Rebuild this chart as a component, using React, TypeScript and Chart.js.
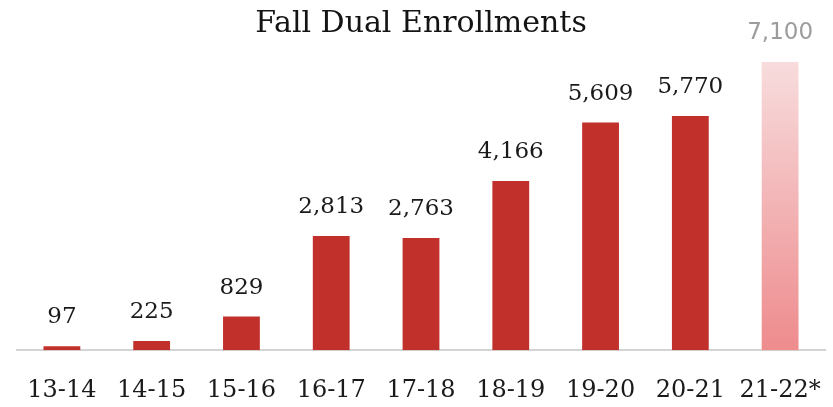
import React, { useEffect, useRef } from "react";
import { Chart, registerables } from "chart.js";

Chart.register(...registerables);

const categories = ["13-14", "14-15", "15-16", "16-17", "17-18", "18-19", "19-20", "20-21", "21-22*"];
const enrollments = [97, 225, 829, 2813, 2763, 4166, 5609, 5770, 7100];
const valueLabels = ["97", "225", "829", "2,813", "2,763", "4,166", "5,609", "5,770", "7,100"];
const projectedIndex = 8;
const chartTitle = "Fall Dual Enrollments";

const BAR_RED = "#c1302b";
const SERIF = "'DejaVu Serif', 'Liberation Serif', serif";
const SANS = "'DejaVu Sans', 'Liberation Sans', sans-serif";

const valueLabelPlugin = {
  id: "valueLabels",
  afterDatasetsDraw(chart: any) {
    const ctx = chart.ctx;
    const meta = chart.getDatasetMeta(0);
    ctx.save();
    ctx.textAlign = "center";
    ctx.textBaseline = "alphabetic";
    meta.data.forEach((bar: any, i: number) => {
      if (i === projectedIndex) {
        ctx.fillStyle = "#9c9c9c";
        ctx.font = `23px ${SANS}`;
      } else {
        ctx.fillStyle = "#1a1a1a";
        ctx.font = `23px ${SERIF}`;
      }
      ctx.fillText(valueLabels[i], bar.x, bar.y - 23);
    });
    ctx.restore();
  },
};

export default function App() {
  const canvasRef = useRef<HTMLCanvasElement | null>(null);

  useEffect(() => {
    document.body.style.margin = "0";
    const canvas = canvasRef.current;
    if (!canvas) return;
    const chart = new Chart(canvas, {
      type: "bar",
      data: {
        labels: categories,
        datasets: [
          {
            data: enrollments,
            backgroundColor: (ctx: any) => {
              if (ctx.dataIndex !== projectedIndex) return BAR_RED;
              const area = ctx.chart.chartArea;
              if (!area) return "#f0a0a2";
              const g = ctx.chart.ctx.createLinearGradient(0, area.top, 0, area.bottom);
              g.addColorStop(0, "#f8dcdd");
              g.addColorStop(1, "#ee8b8d");
              return g;
            },
            borderWidth: 0,
            barPercentage: 0.41,
            categoryPercentage: 1,
          },
        ],
      },
      options: {
        animation: false,
        responsive: false,
        maintainAspectRatio: false,
        layout: { padding: { left: 17, right: 8, top: 0, bottom: -24 } },
        plugins: {
          legend: { display: false },
          tooltip: { enabled: false },
          title: {
            display: true,
            text: chartTitle,
            color: "#141414",
            font: { family: SERIF, size: 30, weight: "normal" },
            padding: { top: 6, bottom: 20 },
          },
        },
        scales: {
          x: {
            grid: { display: false, drawTicks: false },
            border: { display: true, color: "#d4d4d4", width: 2 },
            ticks: {
              color: "#1a1a1a",
              font: { family: SERIF, size: 24 },
              padding: 26,
              autoSkip: false,
              maxRotation: 0,
            },
            afterFit: (scale: any) => {
              scale.paddingLeft = 0;
              scale.paddingRight = 0;
            },
          },
          y: {
            display: false,
            min: 0,
            max: 7100,
          },
        },
      },
      plugins: [valueLabelPlugin],
    });
    return () => chart.destroy();
  }, []);

  return (
    <div style={{ width: 833, height: 407, background: "#ffffff" }}>
      <canvas ref={canvasRef} width={833} height={407} style={{ display: "block" }} />
    </div>
  );
}
